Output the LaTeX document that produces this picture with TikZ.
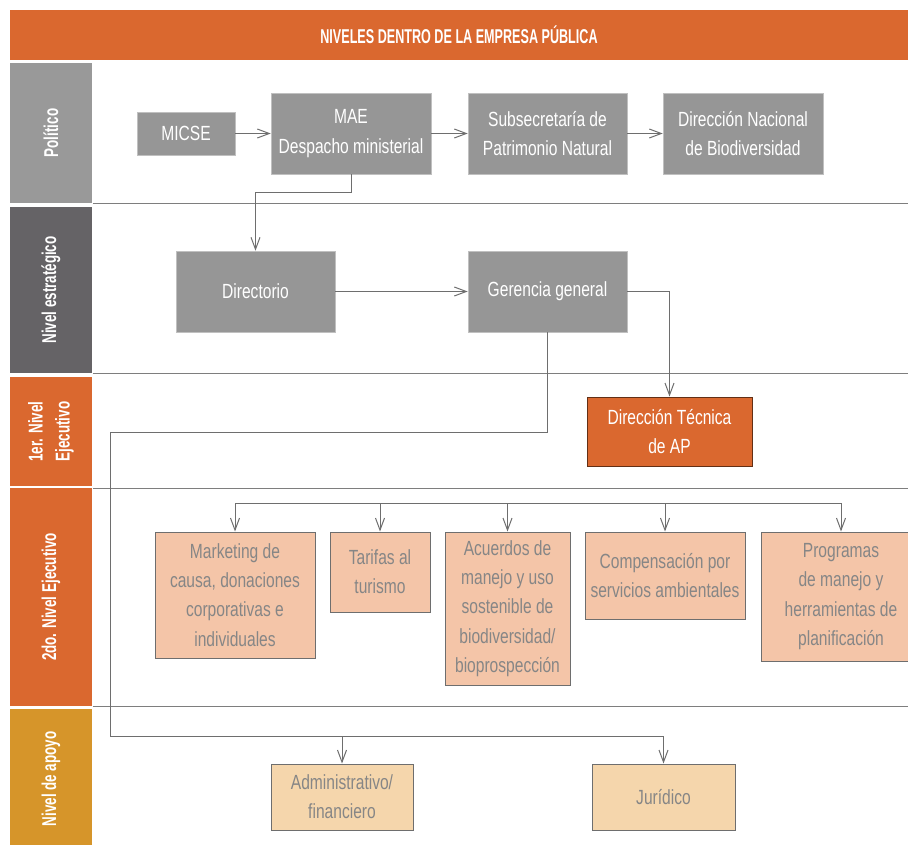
\documentclass[tikz,border=0pt]{standalone}
\usepackage{fontspec}
\setmainfont{Liberation Sans}
\newfontfamily\boxfont[FakeStretch=0.76]{Liberation Sans}
\newfontfamily\labfont[FakeStretch=0.67]{Liberation Sans}
\newfontfamily\hdrfont[FakeStretch=0.63]{Liberation Sans}
\usetikzlibrary{arrows.meta}
\definecolor{hdr}{HTML}{DA682F}
\definecolor{polgray}{HTML}{999999}
\definecolor{estgray}{HTML}{656366}
\definecolor{apoyo}{HTML}{D6952A}
\definecolor{boxgray}{HTML}{969696}
\definecolor{salmon}{HTML}{F4C5A8}
\definecolor{beige}{HTML}{F5D6AC}
\definecolor{linec}{HTML}{6E6E6E}
\definecolor{bandc}{HTML}{7E7E7E}
\definecolor{txtgray}{HTML}{868686}
\tikzset{
  anybox/.style={inner sep=0pt, align=center, font=\boxfont\fontsize{20.5}{29.3}\selectfont},
  graybox/.style={anybox, fill=boxgray, draw=boxgray!60!white, line width=0.6pt, text=white},
  salbox/.style={anybox, fill=salmon, draw=linec, line width=1pt, text=txtgray},
  begbox/.style={anybox, fill=beige, draw=linec, line width=1pt, text=txtgray},
  orbox/.style={anybox, fill=hdr, draw=black!55!hdr, line width=1pt, text=white},
  lab/.style={rotate=90, inner sep=0pt, align=center, text=white, minimum height=82pt,
    font=\labfont\bfseries\fontsize{20}{27}\selectfont},
  conn/.style={draw=linec, line width=1pt, -{Straight Barb[length=12pt,width=9pt,line width=1pt]}},
  plain/.style={draw=linec, line width=1pt},
  bandline/.style={draw=bandc, line width=1pt}
}
\begin{document}
\begin{tikzpicture}[x=1pt,y=-1pt]
\clip (0,0) rectangle (908,845);
\fill[white] (0,0) rectangle (908,845);
% header
\node[fill=hdr, minimum width=898pt, minimum height=50pt, inner sep=0pt, text=white,
  font=\hdrfont\bfseries\fontsize{20}{22}\selectfont] (hdr) at (459,35) {NIVELES DENTRO DE LA EMPRESA PÚBLICA};
% left labels
\node[lab, fill=polgray, minimum width=140pt] (lpol) at (51,133) {Político};
\node[lab, fill=estgray, minimum width=166pt] (lest) at (51,290) {Nivel estratégico};
\node[lab, fill=hdr, minimum width=109pt] (l1) at (51,431.5) {1er. Nivel\\Ejecutivo};
\node[lab, fill=hdr, minimum width=218pt] (l2) at (51,597) {2do. Nivel Ejecutivo};
\node[lab, fill=apoyo, minimum width=140pt] (lap) at (51,779) {Nivel de apoyo};
% band lines
\draw[bandline] (93,204) -- (908,204);
\draw[bandline] (93,373) -- (908,373);
\draw[bandline] (93,488) -- (908,488);
\draw[bandline] (93,706) -- (908,706);
% boxes
\node[graybox, minimum width=98pt, minimum height=43pt] (micse) at (186,133.5) {MICSE};
\node[graybox, minimum width=160pt, minimum height=81pt] (mae) at (351,133.5) {MAE\\Despacho ministerial};
\node[graybox, minimum width=159pt, minimum height=81pt] (sub) at (547.5,133.5) {Subsecretaría de\\Patrimonio Natural};
\node[graybox, minimum width=160pt, minimum height=81pt] (dirnac) at (743,133.5) {Dirección Nacional\\de Biodiversidad};
\node[graybox, minimum width=159pt, minimum height=81pt] (directorio) at (255.5,291.5) {Directorio};
\node[graybox, minimum width=159pt, minimum height=81pt] (gerencia) at (547.5,291.5) {Gerencia general};
\node[orbox, minimum width=165pt, minimum height=69pt] (dtec) at (669.5,431.5) {Dirección Técnica\\de AP};
\node[salbox, minimum width=160pt, minimum height=126pt] (mkt) at (235,595) {Marketing de\\causa, donaciones\\corporativas e\\individuales};
\node[salbox, minimum width=100pt, minimum height=80pt] (tar) at (380,572) {Tarifas al\\turismo};
\node[salbox, minimum width=125pt, minimum height=153pt] (acu) at (507.5,608.5) {Acuerdos de\\manejo y uso\\sostenible de\\biodiversidad/\\bioprospección};
\node[salbox, minimum width=160pt, minimum height=87pt] (comp) at (665,575.5) {Compensación por\\servicios ambientales};
\node[salbox, minimum width=160pt, minimum height=129pt] (prog) at (841,596.5) {Programas\\de manejo y\\herramientas de\\planificación};
\node[begbox, minimum width=142pt, minimum height=66pt] (adm) at (342,797) {Administrativo/\\financiero};
\node[begbox, minimum width=143pt, minimum height=66pt] (jur) at (663.5,797) {Jurídico};
% coordinates
\coordinate (k1) at (0,193);
\coordinate (busL) at (110,432);
\coordinate (busB) at (110,736);
\coordinate (tree) at (0,503);
% connectors
\draw[conn] (micse) -- (mae);
\draw[conn] (mae) -- (sub);
\draw[conn] (sub) -- (dirnac);
\draw[conn] (mae.south) -- (mae.south |- k1) -| (directorio.north);
\draw[conn] (directorio) -- (gerencia);
\draw[conn] (gerencia.east) -| (dtec.north);
\draw[plain] (gerencia.south) |- (busL) -- (busB) -- (jur.north |- busB);
\draw[conn] (adm.north |- busB) -- (adm.north);
\draw[conn] (jur.north |- busB) -- (jur.north);
\draw[plain] (mkt.north |- tree) -- (prog.north |- tree);
\foreach \n in {mkt,tar,acu,comp,prog} \draw[conn] (\n.north |- tree) -- (\n.north);
\end{tikzpicture}
\end{document}
